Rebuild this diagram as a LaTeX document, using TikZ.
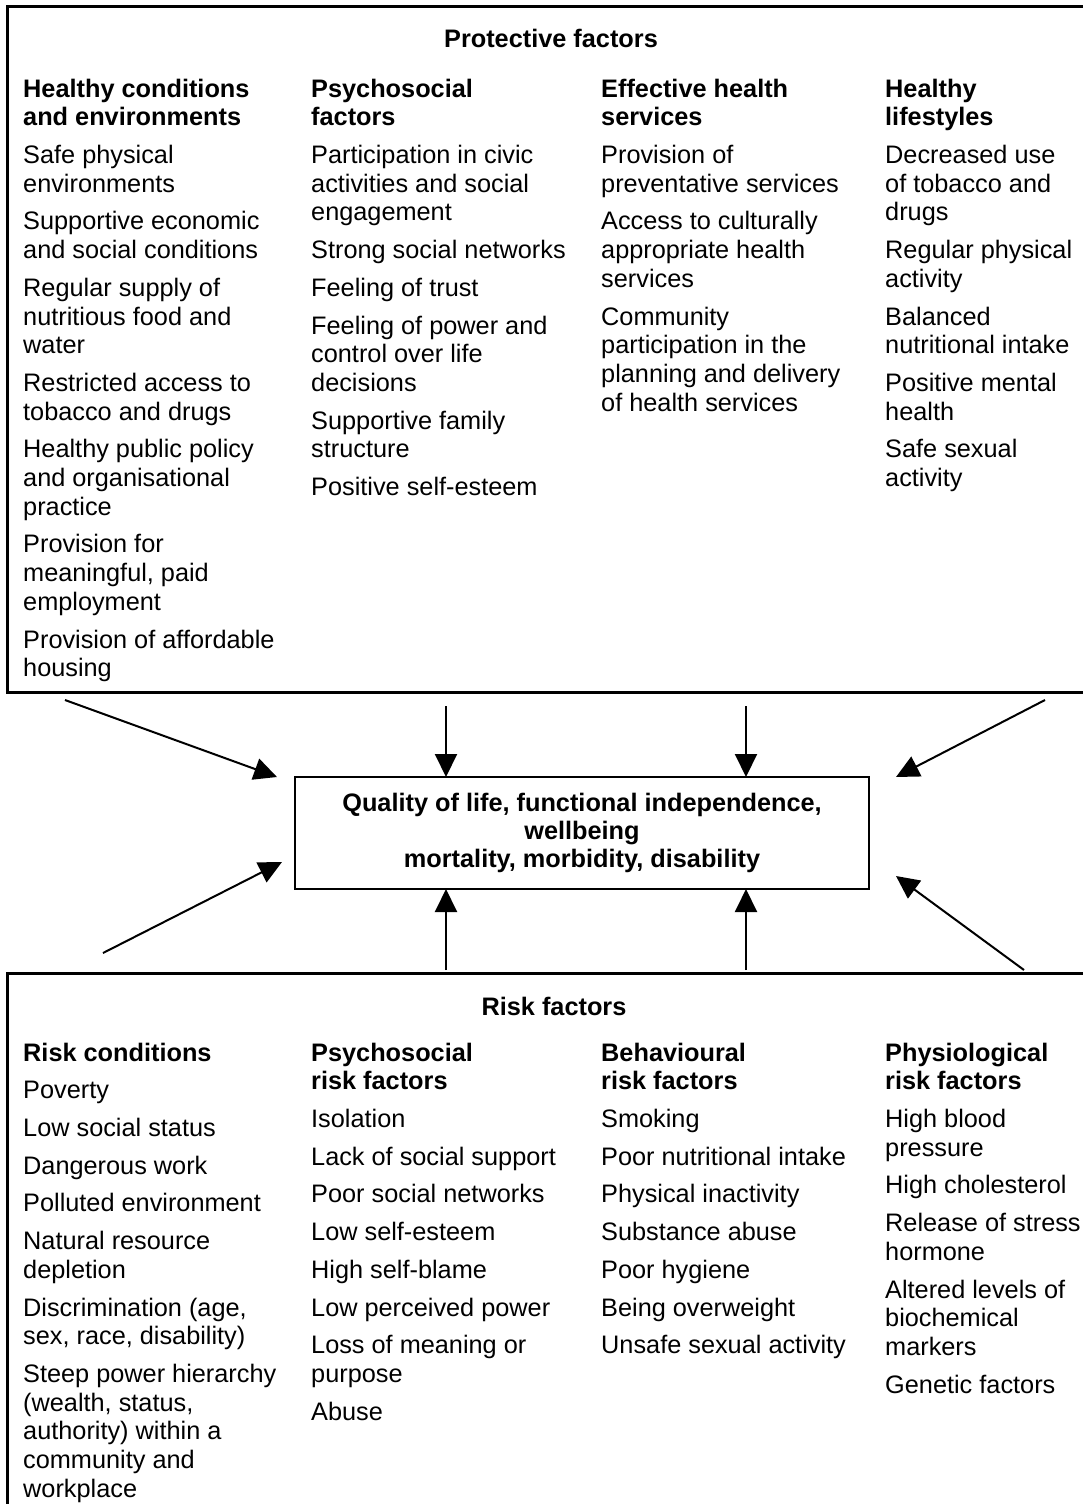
\documentclass[tikz,border=0pt]{standalone}
\usepackage{fontspec}
\setmainfont{Liberation Sans}
\usetikzlibrary{arrows.meta,positioning}

\newcommand{\itembreak}{\\[9pt]}

\begin{document}
\begin{tikzpicture}[
  x=1pt,y=-1pt,
  frame/.style={line width=3pt},
  column/.style={align=left,anchor=north west,inner sep=0pt,
    font=\fontsize{25.3}{28.7}\selectfont},
  heading/.style={anchor=base,inner sep=0pt,
    font=\fontsize{25.3}{28.7}\selectfont\bfseries},
  outcome/.style={draw,line width=2.5pt,minimum width=574pt,minimum height=112pt,
    align=center,inner sep=0pt,font=\fontsize{25.3}{28}\selectfont\bfseries},
  link/.style={line width=2pt,-{Triangle[length=23pt,width=22pt]}}
]
  \useasboundingbox (0,0) rectangle (1083,1504);

  % the two outer frames, cut by the page edge
  \draw[frame] (1083,7) -- (7,7) -- (7,692) -- (1083,692);
  \draw[frame] (1083,973) -- (7,973) -- (7,1504);

  % protective factors
  \node[heading] (protect) at (551,48) {Protective factors};
  \node[column] (conditions) at (23,78.6) {%
    \textbf{Healthy conditions}\\
    \textbf{and environments}\itembreak
    Safe physical\\ environments\itembreak
    Supportive economic\\ and social conditions\itembreak
    Regular supply of\\ nutritious food and\\ water\itembreak
    Restricted access to\\ tobacco and drugs\itembreak
    Healthy public policy\\ and organisational\\ practice\itembreak
    Provision for\\ meaningful, paid\\ employment\itembreak
    Provision of affordable\\ housing};
  \node[column] (psychosocial) at (311,78.6) {%
    \textbf{Psychosocial}\\
    \textbf{factors}\itembreak
    Participation in civic\\ activities and social\\ engagement\itembreak
    Strong social networks\itembreak
    Feeling of trust\itembreak
    Feeling of power and\\ control over life\\ decisions\itembreak
    Supportive family\\ structure\itembreak
    Positive self-esteem};
  \node[column] (services) at (601,78.6) {%
    \textbf{Effective health}\\
    \textbf{services}\itembreak
    Provision of\\ preventative services\itembreak
    Access to culturally\\ appropriate health\\ services\itembreak
    Community\\ participation in the\\ planning and delivery\\ of health services};
  \node[column] (lifestyles) at (885,78.6) {%
    \textbf{Healthy}\\
    \textbf{lifestyles}\itembreak
    Decreased use\\ of tobacco and\\ drugs\itembreak
    Regular physical\\ activity\itembreak
    Balanced\\ nutritional intake\itembreak
    Positive mental\\ health\itembreak
    Safe sexual\\ activity};

  % outcome in the middle
  \node[outcome] (result) at (582,833) {%
    Quality of life, functional independence,\\
    wellbeing\\
    mortality, morbidity, disability};

  % risk factors
  \node[heading] (risk) at (554,1015) {Risk factors};
  \node[column] (riskcond) at (23,1042.6) {%
    \textbf{Risk conditions}\itembreak
    Poverty\itembreak
    Low social status\itembreak
    Dangerous work\itembreak
    Polluted environment\itembreak
    Natural resource\\ depletion\itembreak
    Discrimination (age,\\ sex, race, disability)\itembreak
    Steep power hierarchy\\ (wealth, status,\\ authority) within a\\ community and\\ workplace};
  \node[column] (psychorisk) at (311,1042.6) {%
    \textbf{Psychosocial}\\
    \textbf{risk factors}\itembreak
    Isolation\itembreak
    Lack of social support\itembreak
    Poor social networks\itembreak
    Low self-esteem\itembreak
    High self-blame\itembreak
    Low perceived power\itembreak
    Loss of meaning or\\ purpose\itembreak
    Abuse};
  \node[column] (behaviour) at (601,1042.6) {%
    \textbf{Behavioural}\\
    \textbf{risk factors}\itembreak
    Smoking\itembreak
    Poor nutritional intake\itembreak
    Physical inactivity\itembreak
    Substance abuse\itembreak
    Poor hygiene\itembreak
    Being overweight\itembreak
    Unsafe sexual activity};
  \node[column] (physio) at (885,1042.6) {%
    \textbf{Physiological}\\
    \textbf{risk factors}\itembreak
    High blood\\ pressure\itembreak
    High cholesterol\itembreak
    Release of stress\\ hormone\itembreak
    Altered levels of\\ biochemical\\ markers\itembreak
    Genetic factors};

  % arrow ends
  \coordinate (from1) at (65,700);   \coordinate (to1) at (277,777);
  \coordinate (from2) at (446,706);  \coordinate (to2) at (446,777);
  \coordinate (from3) at (746,706);  \coordinate (to3) at (746,777);
  \coordinate (from4) at (1045,700); \coordinate (to4) at (896,777);
  \coordinate (from5) at (103,953);  \coordinate (to5) at (282,862);
  \coordinate (from6) at (446,970);  \coordinate (to6) at (446,889);
  \coordinate (from7) at (746,970);  \coordinate (to7) at (746,889);
  \coordinate (from8) at (1024,970); \coordinate (to8) at (896,876);

  \draw[link] (from1) -- (to1);
  \draw[link] (from2) -- (to2);
  \draw[link] (from3) -- (to3);
  \draw[link] (from4) -- (to4);
  \draw[link] (from5) -- (to5);
  \draw[link] (from6) -- (to6);
  \draw[link] (from7) -- (to7);
  \draw[link] (from8) -- (to8);
\end{tikzpicture}
\end{document}
